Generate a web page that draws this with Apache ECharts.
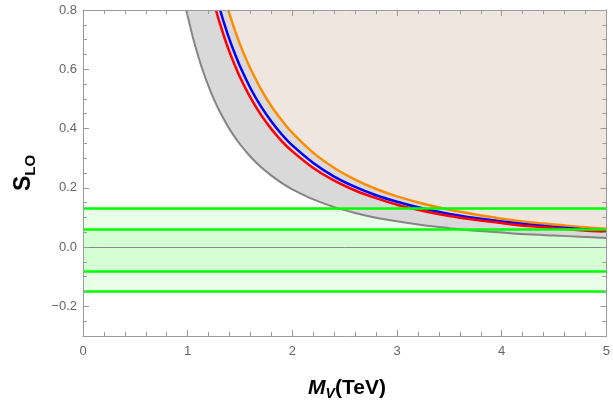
<!DOCTYPE html>
<html>
<head>
<meta charset="utf-8">
<script src="https://cdn.jsdelivr.net/npm/echarts@6/dist/echarts.min.js"></script>
<style>
  html, body { margin: 0; padding: 0; background: #fff; }
  #chart { width: 613px; height: 409px; }
</style>
</head>
<body>
<div id="chart"></div>
<script>
// curves
const grayX = [0.985, 1.0, 1.05, 1.1, 1.15, 1.2, 1.25, 1.3, 1.4, 1.5, 1.6, 1.7, 1.8, 1.9, 2.0, 2.2, 2.4, 2.6, 2.8, 3.0, 3.25, 3.5, 3.75, 4.0, 4.25, 4.5, 4.75, 5.0]
const grayY = [0.800, 0.780, 0.707, 0.645, 0.590, 0.542, 0.499, 0.462, 0.398, 0.347, 0.305, 0.270, 0.241, 0.216, 0.195, 0.161, 0.135, 0.115, 0.099, 0.087, 0.074, 0.064, 0.055, 0.049, 0.043, 0.039, 0.035, 0.031]

const redX = [1.27, 1.3, 1.35, 1.4, 1.45, 1.5, 1.6, 1.7, 1.8, 1.9, 2.0, 2.2, 2.4, 2.6, 2.8, 3.0, 3.25, 3.5, 3.75, 4.0, 4.25, 4.5, 4.75, 5.0]
const redY = [0.800, 0.763, 0.708, 0.658, 0.614, 0.573, 0.504, 0.446, 0.398, 0.357, 0.323, 0.267, 0.224, 0.191, 0.165, 0.143, 0.122, 0.105, 0.092, 0.081, 0.071, 0.064, 0.057, 0.052]

const blueX = [1.31, 1.35, 1.4, 1.45, 1.5, 1.6, 1.7, 1.8, 1.9, 2.0, 2.2, 2.4, 2.6, 2.8, 3.0, 3.25, 3.5, 3.75, 4.0, 4.25, 4.5, 4.75, 5.0]
const blueY = [0.800, 0.753, 0.700, 0.653, 0.610, 0.536, 0.475, 0.424, 0.380, 0.343, 0.284, 0.238, 0.203, 0.175, 0.153, 0.130, 0.112, 0.098, 0.086, 0.076, 0.068, 0.061, 0.055]

const orangeX = [1.387, 1.42, 1.45, 1.5, 1.55, 1.6, 1.7, 1.8, 1.9, 2.0, 2.2, 2.4, 2.6, 2.8, 3.0, 3.25, 3.5, 3.75, 4.0, 4.25, 4.5, 4.75, 5.0]
const orangeY = [0.800, 0.764, 0.732, 0.684, 0.641, 0.602, 0.533, 0.475, 0.427, 0.385, 0.318, 0.267, 0.228, 0.196, 0.171, 0.146, 0.126, 0.110, 0.096, 0.085, 0.076, 0.068, 0.062]

// horizontal green bands
const outerBand = [-0.15, 0.13]
const innerBand = [-0.08, 0.06]

const yMajor = [-0.2, 0.0, 0.2, 0.4, 0.6, 0.8]
const yMinor = [-0.3, -0.25, -0.15, -0.1, -0.05, 0.05, 0.1, 0.15, 0.25, 0.3, 0.35, 0.45, 0.5, 0.55, 0.65, 0.7, 0.75]

const pairs = (xs, ys) => xs.map((x, i) => [x, ys[i]])

const frameColor = '#9a9a9a'
const labelColor = '#666'

const xAxisBase = (pos, showLabel) => ({
  type: 'value',
  position: pos,
  min: 0,
  max: 5,
  interval: 1,
  z: 10,
  axisLine: { show: true, onZero: false, lineStyle: { color: frameColor, width: 1 } },
  axisTick: { show: true, inside: true, length: 6, lineStyle: { color: frameColor } },
  minorTick: { show: true, splitNumber: 5, length: 4, lineStyle: { color: frameColor } },
  splitLine: { show: false },
  axisLabel: {
    show: showLabel,
    color: labelColor,
    fontSize: 13,
    fontFamily: 'Liberation Sans',
    margin: 9
  }
})

const yAxisBase = (pos, showLabel, ticks, len) => ({
  type: 'value',
  position: pos,
  min: -0.3,
  max: 0.8,
  z: 10,
  axisLine: { show: true, onZero: false, lineStyle: { color: frameColor, width: 1 } },
  axisTick: { show: true, inside: true, length: len, customValues: ticks, lineStyle: { color: frameColor } },
  splitLine: { show: false },
  axisLabel: {
    show: showLabel,
    customValues: yMajor,
    color: labelColor,
    fontSize: 13,
    fontFamily: 'Liberation Sans',
    margin: 6,
    formatter: v => v.toFixed(1).replace('-', '\u2212')
  }
})

const lineSeries = (name, xs, ys, color, width, z, area) => ({
  name: name,
  type: 'line',
  data: pairs(xs, ys),
  smooth: 0.3,
  showSymbol: false,
  lineStyle: { color: color, width: width },
  areaStyle: area ? { origin: 'end', color: area, opacity: 1 } : undefined,
  z: z
})

const myChart = echarts.init(document.getElementById('chart'))
myChart.setOption({
  animation: false,
  grid: { left: 83, right: 4, top: 10, bottom: 73, containLabel: false },
  xAxis: [
    xAxisBase('bottom', true),
    xAxisBase('top', false)
  ],
  yAxis: [
    yAxisBase('left', true, yMajor, 6),
    yAxisBase('left', false, yMinor, 4),
    yAxisBase('right', false, yMajor, 6),
    yAxisBase('right', false, yMinor, 4)
  ],
  graphic: [
    {
      type: 'text',
      x: 347,
      y: 388,
      style: {
        text: '{m|M}{s|V}{n|(TeV)}',
        align: 'center',
        verticalAlign: 'middle',
        rich: {
          m: { fontSize: 21, fontWeight: 'bold', fontStyle: 'italic', fontFamily: 'Liberation Sans', fill: '#000', lineHeight: 26 },
          s: { fontSize: 14, fontWeight: 'bold', fontStyle: 'italic', fontFamily: 'Liberation Sans', fill: '#000', lineHeight: 26, verticalAlign: 'bottom', padding: [10, 0, 0, 0] },
          n: { fontSize: 21, fontWeight: 'bold', fontFamily: 'Liberation Sans', fill: '#000', lineHeight: 26 }
        }
      }
    },
    {
      type: 'text',
      x: 24,
      y: 173,
      rotation: Math.PI / 2,
      style: {
        text: '{m|S}{s|LO}',
        align: 'center',
        verticalAlign: 'middle',
        rich: {
          m: { fontSize: 23, fontWeight: 'bold', fontFamily: 'Liberation Sans', fill: '#000', lineHeight: 28 },
          s: { fontSize: 15, fontWeight: 'bold', fontFamily: 'Liberation Sans', fill: '#000', lineHeight: 28, verticalAlign: 'bottom', padding: [10, 0, 0, 0] }
        }
      }
    }
  ],
  series: [
    lineSeries('gray', grayX, grayY, '#858585', 2, 2, '#d9d9d9'),
    lineSeries('orange', orangeX, orangeY, '#ff8c00', 2.5, 3, '#efe6e0'),
    lineSeries('blue', blueX, blueY, '#0000ff', 2.5, 4),
    lineSeries('red', redX, redY, '#ff0000', 2.5, 4),
    {
      name: 'bands',
      type: 'line',
      data: [],
      z: 5,
      markArea: {
        silent: true,
        itemStyle: { color: 'rgba(0, 255, 0, 0.09)' },
        data: [
          [{ yAxis: outerBand[0] }, { yAxis: outerBand[1] }],
          [{ yAxis: innerBand[0] }, { yAxis: innerBand[1] }]
        ]
      },
      markLine: {
        silent: true,
        symbol: 'none',
        label: { show: false },
        data: [
          { yAxis: 0, lineStyle: { color: '#888', width: 1, type: 'solid' } },
          { yAxis: outerBand[0], lineStyle: { color: '#00ff00', width: 2.5, type: 'solid' } },
          { yAxis: outerBand[1], lineStyle: { color: '#00ff00', width: 2.5, type: 'solid' } },
          { yAxis: innerBand[0], lineStyle: { color: '#00ff00', width: 2.5, type: 'solid' } },
          { yAxis: innerBand[1], lineStyle: { color: '#00ff00', width: 2.5, type: 'solid' } }
        ]
      }
    }
  ]
})
</script>
</body>
</html>
